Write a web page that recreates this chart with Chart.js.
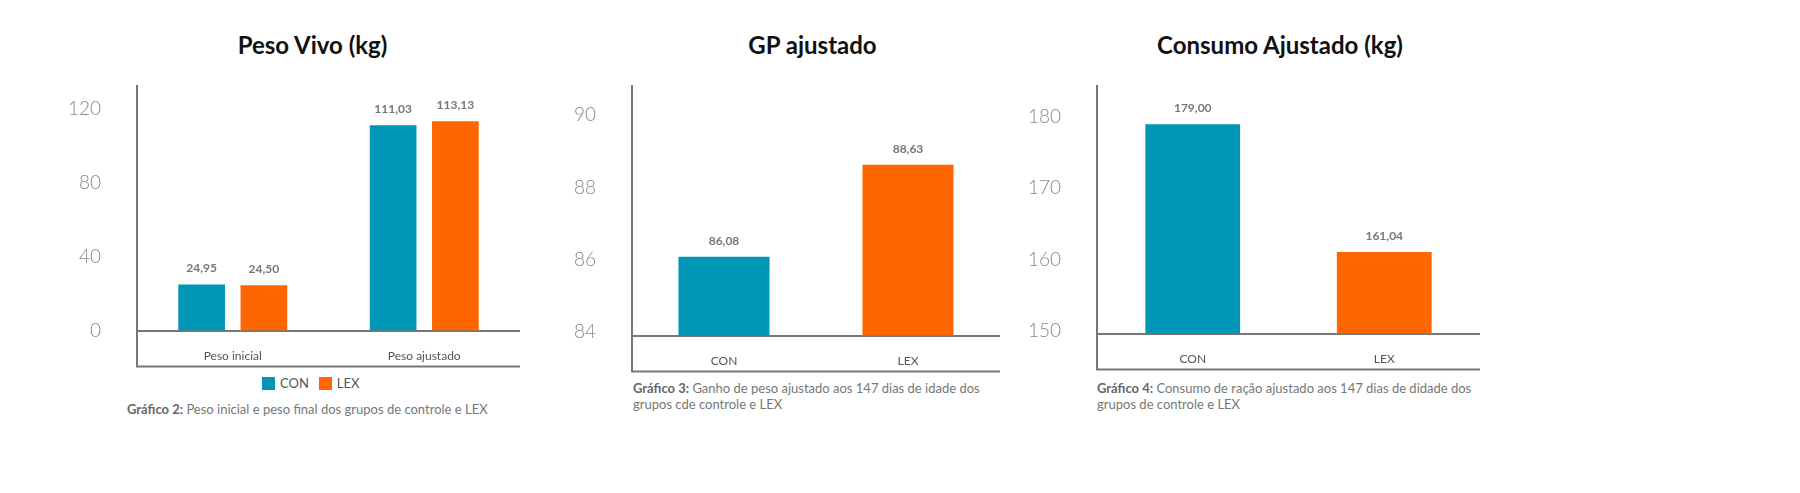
<!DOCTYPE html>
<html>
<head>
<meta charset="utf-8">
<script src="https://cdn.jsdelivr.net/npm/chart.js@4"></script>
<style>
  body { margin: 0; background: #fff; font-family: Lato, sans-serif; width: 1800px; height: 493px; position: relative; overflow: hidden; }
  .title { position: absolute; top: 30px; font-weight: bold; font-size: 24px; color: #111; text-align: center; }
  .box { position: absolute; }
  .caption { position: absolute; font-size: 13px; color: #777; line-height: 16px; }
  .caption b { color: #666; }
  .legend { position: absolute; top: 375px; left: 262px; font-size: 13px; color: #555; }
  .sw { display: inline-block; width: 13px; height: 13px; vertical-align: -2px; margin-right: 5px; }
</style>
</head>
<body>
<div class="title" style="left:140px;width:345px">Peso Vivo (kg)</div>
<div class="title" style="left:640px;width:345px">GP ajustado</div>
<div class="title" style="left:1100px;width:360px">Consumo Ajustado (kg)</div>

<div class="box" style="left:60px;top:47px;width:460px;height:323px"><canvas id="c1"></canvas></div>
<div class="box" style="left:555px;top:47px;width:445px;height:328px"><canvas id="c2"></canvas></div>
<div class="box" style="left:1020px;top:47px;width:460px;height:326px"><canvas id="c3"></canvas></div>

<div class="legend"><span class="sw" style="background:#0096b5"></span>CON &nbsp;&nbsp;<span class="sw" style="background:#ff6600"></span>LEX</div>
<div class="caption" style="left:127px;top:401px"><b>Gráfico 2:</b> Peso inicial e peso final dos grupos de controle e LEX</div>
<div class="caption" style="left:633px;top:380px;width:380px"><b>Gráfico 3:</b> Ganho de peso ajustado aos 147 dias de idade dos grupos cde controle e LEX</div>
<div class="caption" style="left:1097px;top:380px;width:400px"><b>Gráfico 4:</b> Consumo de ração ajustado aos 147 dias de didade dos grupos de controle e LEX</div>

<script>
const CON_COLOR = '#0096b5';
const LEX_COLOR = '#ff6600';

// Chart 2 data
const pesoCategories = ['Peso inicial', 'Peso ajustado'];
const pesoCON = [24.95, 111.03];
const pesoLEX = [24.50, 113.13];
const pesoTicks = [0, 40, 80, 120];

// Chart 3 data
const gpCategories = ['CON', 'LEX'];
const gpValues = [86.08, 88.63];
const gpTicks = [84, 86, 88, 90];

// Chart 4 data
const consumoCategories = ['CON', 'LEX'];
const consumoValues = [179.00, 161.04];
const consumoTicks = [150, 160, 170, 180];

// Format as "24,95"
function fmt(v) {
    return v.toFixed(2).replace('.', ',');
}

// Value labels above bars + box under the x axis
const decorPlugin = {
    id: 'decor',
    afterDatasetsDraw(chart) {
        const ctx = chart.ctx;
        ctx.save();
        ctx.font = 'bold 12px Lato';
        ctx.fillStyle = '#777';
        ctx.textAlign = 'center';
        chart.data.datasets.forEach((ds, i) => {
            chart.getDatasetMeta(i).data.forEach((bar, j) => {
                ctx.fillText(fmt(ds.data[j]), bar.x, bar.y - 12);
            });
        });
        const a = chart.chartArea;
        const bottom = a.bottom + 36;
        ctx.strokeStyle = '#777';
        ctx.lineWidth = 2;
        ctx.beginPath();
        ctx.moveTo(a.left, a.bottom);
        ctx.lineTo(a.left, bottom);
        ctx.lineTo(a.right, bottom);
        ctx.stroke();
        ctx.restore();
    }
};

function baseOptions(min, max, ticks) {
    return {
        responsive: true,
        maintainAspectRatio: false,
        animation: false,
        layout: { padding: { bottom: 2, right: 0 } },
        plugins: { legend: { display: false }, tooltip: { enabled: false } },
        scales: {
            x: {
                grid: { display: false },
                border: { color: '#777', width: 2 },
                ticks: { color: '#555', font: { size: 12, family: 'Lato' }, padding: 10 },
                afterFit(s) { s.height = 36; }
            },
            y: {
                min: min,
                max: max,
                grid: { display: false },
                border: { color: '#777', width: 2 },
                afterBuildTicks(s) { s.ticks = ticks.map(v => ({ value: v })); },
                ticks: { color: '#888', font: { size: 19, family: 'Lato', weight: '300' }, padding: 28 },
                afterFit(s) { s.width = 77; }
            }
        }
    };
}

function createPesoChart() {
    new Chart(document.getElementById('c1'), {
        type: 'bar',
        data: {
            labels: pesoCategories,
            datasets: [
                { label: 'CON', data: pesoCON, backgroundColor: CON_COLOR, barPercentage: 0.75, categoryPercentage: 0.65 },
                { label: 'LEX', data: pesoLEX, backgroundColor: LEX_COLOR, barPercentage: 0.75, categoryPercentage: 0.65 }
            ]
        },
        options: baseOptions(0, 132, pesoTicks),
        plugins: [decorPlugin]
    });
}

function createSingleChart(id, labels, values, min, max, ticks) {
    new Chart(document.getElementById(id), {
        type: 'bar',
        data: {
            labels: labels,
            datasets: [{
                data: values,
                backgroundColor: [CON_COLOR, LEX_COLOR],
                barPercentage: 0.55,
                categoryPercentage: 0.9
            }]
        },
        options: baseOptions(min, max, ticks),
        plugins: [decorPlugin]
    });
}

createPesoChart();
createSingleChart('c2', gpCategories, gpValues, 83.9, 90.8, gpTicks);
createSingleChart('c3', consumoCategories, consumoValues, 149.6, 184.3, consumoTicks);
</script>
</body>
</html>
